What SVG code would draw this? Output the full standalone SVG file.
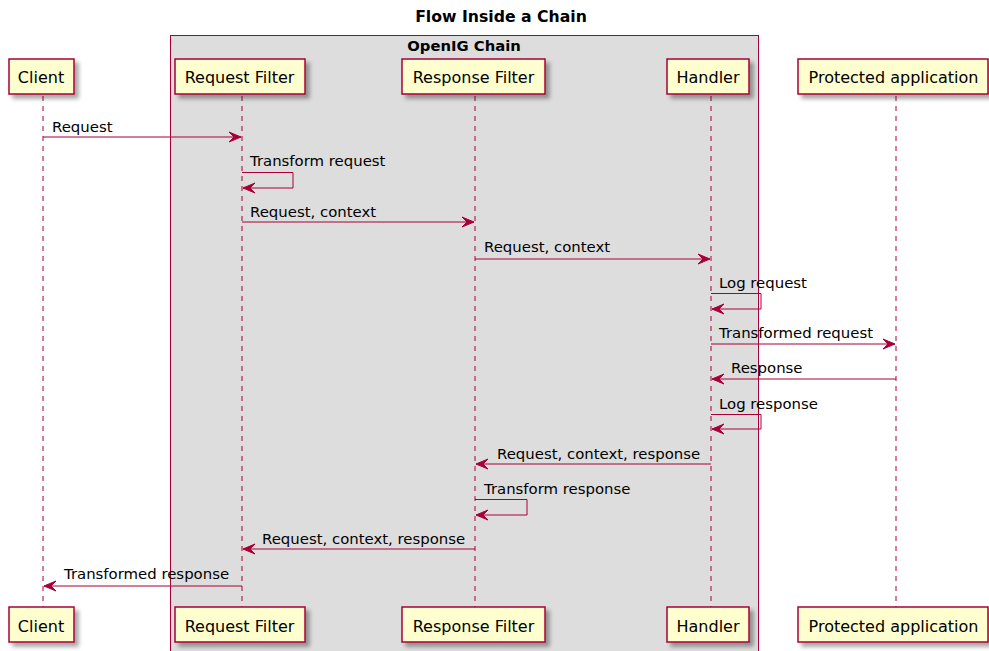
<svg xmlns="http://www.w3.org/2000/svg" width="989" height="651" viewBox="0 0 989 651">
<style>
.p{fill:#FEFECE;stroke:#A80036;stroke-width:1.5}
.t{font-family:"DejaVu Sans",Verdana,sans-serif;font-size:14.9px;fill:#000}
.pt{font-family:"DejaVu Sans",Verdana,sans-serif;font-size:16px;fill:#000;text-anchor:middle}
.b{font-family:"DejaVu Sans",Verdana,sans-serif;font-weight:bold;fill:#000;text-anchor:middle}
.ll{stroke:#A80036;stroke-width:1;stroke-dasharray:5,5;fill:none}
.m{stroke:#A80036;stroke-width:1;fill:none}
</style>
<defs>
<filter id="sh" x="-10%" y="-10%" width="130%" height="150%">
<feGaussianBlur in="SourceAlpha" stdDeviation="2"/>
<feOffset dx="4" dy="4" result="o"/>
<feFlood flood-color="#000" flood-opacity="0.35"/>
<feComposite in2="o" operator="in"/>
<feMerge><feMergeNode/><feMergeNode in="SourceGraphic"/></feMerge>
</filter>
<marker id="ar" viewBox="0 0 14 12" refX="13" refY="6" markerWidth="14" markerHeight="12" markerUnits="userSpaceOnUse" orient="auto">
<polygon points="1,1 13,6 1,11 6,6" fill="#A80036" stroke="#A80036" stroke-width="1"/>
</marker>
</defs>
<rect width="989" height="651" fill="#fff"/>
<text class="b" x="501" y="22" font-size="15.7px">Flow Inside a Chain</text>
<g id="chain">
<rect x="170.5" y="35.5" width="588" height="630" fill="#DDDDDD" stroke="#A80036" stroke-width="1"/>
<text class="b" x="464" y="51" font-size="14.8px">OpenIG Chain</text>
</g>
<g id="lifelines">
<line class="ll" x1="43" y1="96" x2="43" y2="607"/>
<line class="ll" x1="242" y1="96" x2="242" y2="607"/>
<line class="ll" x1="475" y1="96" x2="475" y2="607"/>
<line class="ll" x1="711" y1="96" x2="711" y2="607"/>
<line class="ll" x1="896" y1="96" x2="896" y2="607"/>
</g>
<g id="client">
<rect class="p" filter="url(#sh)" x="9" y="59" width="65" height="35"/>
<text class="pt" x="41" y="83">Client</text>
<rect class="p" filter="url(#sh)" x="9" y="607" width="65" height="35"/>
<text class="pt" x="41" y="631.5">Client</text>
</g>
<g id="request-filter">
<rect class="p" filter="url(#sh)" x="175" y="59" width="130" height="35"/>
<text class="pt" x="239.5" y="83">Request Filter</text>
<rect class="p" filter="url(#sh)" x="175" y="607" width="130" height="35"/>
<text class="pt" x="239.5" y="631.5">Request Filter</text>
</g>
<g id="response-filter">
<rect class="p" filter="url(#sh)" x="402" y="59" width="143" height="35"/>
<text class="pt" x="473.5" y="83">Response Filter</text>
<rect class="p" filter="url(#sh)" x="402" y="607" width="143" height="35"/>
<text class="pt" x="473.5" y="631.5">Response Filter</text>
</g>
<g id="handler">
<rect class="p" filter="url(#sh)" x="667" y="59" width="82" height="35"/>
<text class="pt" x="708" y="83">Handler</text>
<rect class="p" filter="url(#sh)" x="667" y="607" width="82" height="35"/>
<text class="pt" x="708" y="631.5">Handler</text>
</g>
<g id="protected-application">
<rect class="p" filter="url(#sh)" x="798" y="59" width="190" height="35"/>
<text class="pt" x="893.5" y="83">Protected application</text>
<rect class="p" filter="url(#sh)" x="798" y="607" width="190" height="35"/>
<text class="pt" x="893.5" y="631.5">Protected application</text>
</g>
<g id="connectors">
<line class="m" x1="43" y1="137" x2="241" y2="137" marker-end="url(#ar)"/>
<text class="t" x="52" y="132">Request</text>
<polyline class="m" points="242,172.5 293,172.5 293,188 243,188" marker-end="url(#ar)"/>
<text class="t" x="250" y="166">Transform request</text>
<line class="m" x1="242" y1="222" x2="474" y2="222" marker-end="url(#ar)"/>
<text class="t" x="250" y="217">Request, context</text>
<line class="m" x1="475" y1="259" x2="710" y2="259" marker-end="url(#ar)"/>
<text class="t" x="484" y="252">Request, context</text>
<polyline class="m" points="711,293.5 761,293.5 761,309 712,309" marker-end="url(#ar)"/>
<text class="t" x="719" y="288">Log request</text>
<line class="m" x1="711" y1="344" x2="895" y2="344" marker-end="url(#ar)"/>
<text class="t" x="719" y="338">Transformed request</text>
<line class="m" x1="896" y1="379" x2="712" y2="379" marker-end="url(#ar)"/>
<text class="t" x="731" y="373">Response</text>
<polyline class="m" points="711,414.5 761,414.5 761,429 712,429" marker-end="url(#ar)"/>
<text class="t" x="719" y="409">Log response</text>
<line class="m" x1="711" y1="464" x2="476" y2="464" marker-end="url(#ar)"/>
<text class="t" x="497" y="459">Request, context, response</text>
<polyline class="m" points="475,499.5 527,499.5 527,515 476,515" marker-end="url(#ar)"/>
<text class="t" x="484" y="494">Transform response</text>
<line class="m" x1="475" y1="549" x2="243" y2="549" marker-end="url(#ar)"/>
<text class="t" x="262" y="544">Request, context, response</text>
<line class="m" x1="242" y1="586" x2="44" y2="586" marker-end="url(#ar)"/>
<text class="t" x="64" y="579">Transformed response</text>
</g>
</svg>
